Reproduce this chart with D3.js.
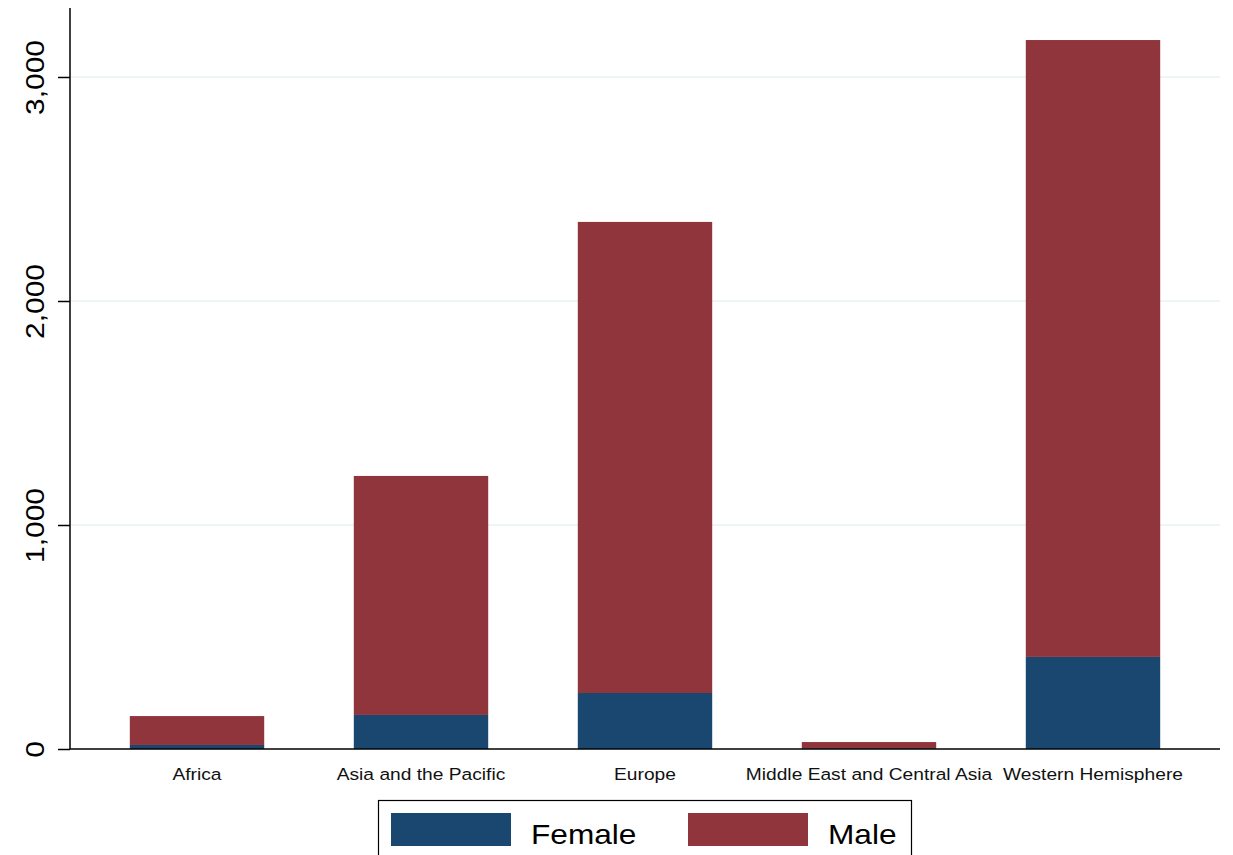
<!DOCTYPE html>
<html>
<head>
<meta charset="utf-8">
<script src="https://cdn.jsdelivr.net/npm/d3@7"></script>
<style>
html,body{margin:0;padding:0;background:#fff;}
svg{display:block;}
text{font-family:"Liberation Sans",Arial,sans-serif;}
</style>
</head>
<body>
<svg id="chart" width="1233" height="855"></svg>
<script>
const categories = ["Africa","Asia and the Pacific","Europe","Middle East and Central Asia","Western Hemisphere"];
const female = [18, 152, 250, 3, 411];
const male = [129, 1067, 2103, 28, 2754];
const yTicks = [0, 1000, 2000, 3000];
const seriesNames = ["Female","Male"];
const colors = ["#1a476f","#90353b"];

(function(){
const svg = d3.select("#chart");
const mLeft = 70, mRight = 1220, mTop = 8, mBottom = 749;
const yMax = 3308;
const stretch = 1.13;

const x = d3.scaleBand().domain(categories).range([mLeft, mRight]).paddingInner(0.4).paddingOuter(0.267);
const y = d3.scaleLinear().domain([0, yMax]).range([mBottom, mTop]);

// gridlines
svg.append("g").selectAll("line").data(yTicks.filter(d=>d>0)).join("line")
  .attr("x1", mLeft).attr("x2", mRight)
  .attr("y1", d=>y(d)).attr("y2", d=>y(d))
  .attr("stroke", "#eaf2f3").attr("stroke-width", 1.5);

// stacked data
const rows = categories.map((c,i)=>({cat:c, Female:female[i], Male:male[i]}));
const stack = d3.stack().keys(seriesNames)(rows);

svg.append("g").selectAll("g").data(stack).join("g")
  .attr("fill", (d,i)=>colors[i])
  .selectAll("rect").data(d=>d).join("rect")
  .attr("x", d=>x(d.data.cat))
  .attr("width", x.bandwidth())
  .attr("y", d=>y(d[1]))
  .attr("height", d=>y(d[0])-y(d[1]));

// y axis
const yAxis = d3.axisLeft(y).tickValues(yTicks).tickSize(12).tickFormat(d3.format(","));
const yg = svg.append("g").attr("transform", `translate(${mLeft},0)`).call(yAxis);
yg.select(".domain").attr("d", `M0,${mTop}V${mBottom}`).attr("stroke","#000").attr("stroke-width",1.5);
yg.selectAll(".tick line").attr("stroke","#000").attr("stroke-width",1.5);
yg.selectAll(".tick text")
  .attr("font-size", 26.5).attr("fill","#000")
  .attr("transform", `rotate(-90) scale(${stretch},1)`)
  .attr("x", 0).attr("y", -26)
  .attr("dy", 0)
  .attr("text-anchor","middle");

// x axis
const xAxis = d3.axisBottom(x).tickSize(0);
const xg = svg.append("g").attr("transform", `translate(0,${mBottom})`).call(xAxis);
xg.select(".domain").attr("d", `M${mLeft},0H${mRight}`).attr("stroke","#000").attr("stroke-width",1.5);
xg.selectAll(".tick text").attr("font-size", 17).attr("fill","#111")
  .attr("y", 31).attr("dy", 0)
  .attr("transform", `scale(${stretch},1)`);

// legend
const lg = svg.append("g");
lg.append("rect").attr("x", 378.5).attr("y", 800.5).attr("width", 533).attr("height", 70)
  .attr("fill","#fff").attr("stroke","#000").attr("stroke-width",1.2);
const legX = [391, 688];
seriesNames.forEach((s,i)=>{
  lg.append("rect").attr("x", legX[i]).attr("y", 813).attr("width", 120).attr("height", 33).attr("fill", colors[i]);
  lg.append("text").attr("transform", `translate(${legX[i]+140},844) scale(${stretch},1)`)
    .attr("font-size", 28).attr("fill","#000").text(s);
});
})();
</script>
</body>
</html>
